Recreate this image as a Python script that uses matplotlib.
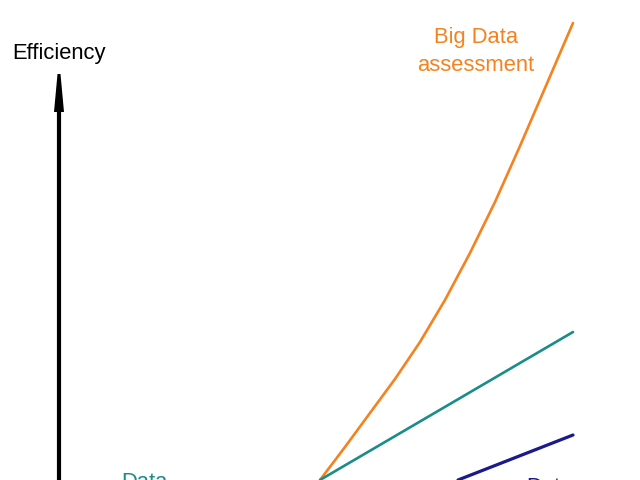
import matplotlib
matplotlib.use("Agg")
import matplotlib.pyplot as plt

plt.rcParams['font.family'] = ['Liberation Sans', 'DejaVu Sans']

# Curves (chart units: x to the right, y downward as in the drawing canvas)
big_data_x = [320, 345, 370, 395, 420, 445, 470, 495, 520, 545, 573]
big_data_y = [480, 447, 413, 379, 342, 300, 253, 202, 146, 88, 23]

data_teal_x = [320, 573]
data_teal_y = [480, 332]

data_navy_x = [458, 573]
data_navy_y = [480, 435]

labels = ["Efficiency", "Big Data", "assessment", "Data", "Data"]

ORANGE = "#F5821F"
TEAL = "#1A8C8A"
NAVY = "#1A1A8C"

fig = plt.figure(figsize=(6.4, 4.8), dpi=100)
ax = fig.add_axes([0, 0, 1, 1])
ax.set_xlim(0, 640)
ax.set_ylim(480, 0)
ax.axis('off')

# Vertical axis with arrow head
ax.plot([59, 59], [490, 110], color='black', lw=3.0, solid_capstyle='butt')
ax.fill([54, 64, 60.5, 57.5], [112, 112, 74, 74], color='black', lw=0)

ax.plot(big_data_x, big_data_y, color=ORANGE, lw=1.9, solid_capstyle='round',
        solid_joinstyle='round')
ax.plot(data_teal_x, data_teal_y, color=TEAL, lw=1.9, solid_capstyle='round')
ax.plot(data_navy_x, data_navy_y, color=NAVY, lw=2.3, solid_capstyle='round')

fs = 15.8
ax.text(12, 59, labels[0], color='black', fontsize=fs, ha='left', va='baseline')
ax.text(476, 43, labels[1], color=ORANGE, fontsize=fs, ha='center', va='baseline')
ax.text(476, 71, labels[2], color=ORANGE, fontsize=fs, ha='center', va='baseline')
ax.text(144, 488, labels[3], color=TEAL, fontsize=fs, ha='center', va='baseline')
ax.text(526, 493, labels[4], color=NAVY, fontsize=fs, ha='left', va='baseline')

fig.savefig("out.png", dpi=100)
